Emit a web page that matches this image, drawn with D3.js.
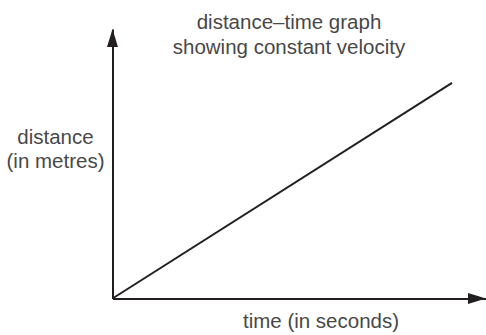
<!DOCTYPE html>
<html>
<head>
<meta charset="utf-8">
<script src="https://cdn.jsdelivr.net/npm/d3@7"></script>
<style>
  html, body { margin: 0; padding: 0; background: #fff; }
  svg { display: block; }
  text { font-family: "Liberation Sans", Arial, sans-serif; fill: #484848; font-size: 20.5px; }
</style>
</head>
<body>
<svg id="chart" width="486" height="335"></svg>
<script>
// Motion at constant velocity: distance grows linearly with time
const times = [0, 10];        // seconds
const distances = [0, 8];     // metres
const titleLines = ["distance\u2013time graph", "showing constant velocity"];
const yLabelLines = ["distance", "(in metres)"];
const xLabel = "time (in seconds)";

const svg = d3.select("#chart");
const ink = "#231f20";

const x = d3.scaleLinear().domain([0, 11]).range([112.5, 486]);
const y = d3.scaleLinear().domain([0, 10]).range([298.5, 29]);

// Axes with no ticks, just the baseline
svg.append("g")
  .attr("transform", `translate(0,${y(0)})`)
  .call(d3.axisBottom(x).tickValues([]).tickSizeOuter(0))
  .call(g => g.select(".domain").attr("stroke", ink).attr("stroke-width", 2));

svg.append("g")
  .attr("transform", `translate(${x(0)},0)`)
  .call(d3.axisLeft(y).tickValues([]).tickSizeOuter(0))
  .call(g => g.select(".domain").attr("stroke", ink).attr("stroke-width", 2));

// Arrowheads at the far ends of both axes
const headLen = 18, headHalf = 5.5;
const xEnd = x.range()[1];
const yEnd = y.range()[1];
svg.append("path")
  .attr("d", `M${xEnd},${y(0)} L${xEnd - headLen},${y(0) - headHalf} L${xEnd - headLen},${y(0) + headHalf} Z`)
  .attr("fill", ink);
svg.append("path")
  .attr("d", `M${x(0)},${yEnd} L${x(0) - headHalf},${yEnd + headLen} L${x(0) + headHalf},${yEnd + headLen} Z`)
  .attr("fill", ink);

// The distance-time line
const line = d3.line().x(d => x(d[0])).y(d => y(d[1]));
svg.append("path")
  .datum(d3.zip(times, distances))
  .attr("d", line)
  .attr("fill", "none")
  .attr("stroke", ink)
  .attr("stroke-width", 2);

// Title
svg.append("text")
  .attr("text-anchor", "middle")
  .selectAll("tspan")
  .data(titleLines)
  .join("tspan")
  .attr("x", 289)
  .attr("y", (d, i) => 28.5 + i * 25)
  .text(d => d);

// Y axis label
svg.append("text")
  .attr("text-anchor", "middle")
  .selectAll("tspan")
  .data(yLabelLines)
  .join("tspan")
  .attr("x", 55.5)
  .attr("y", (d, i) => 143.5 + i * 24)
  .text(d => d);

// X axis label
svg.append("text")
  .attr("text-anchor", "middle")
  .attr("x", 321)
  .attr("y", 328)
  .text(xLabel);
</script>
</body>
</html>
